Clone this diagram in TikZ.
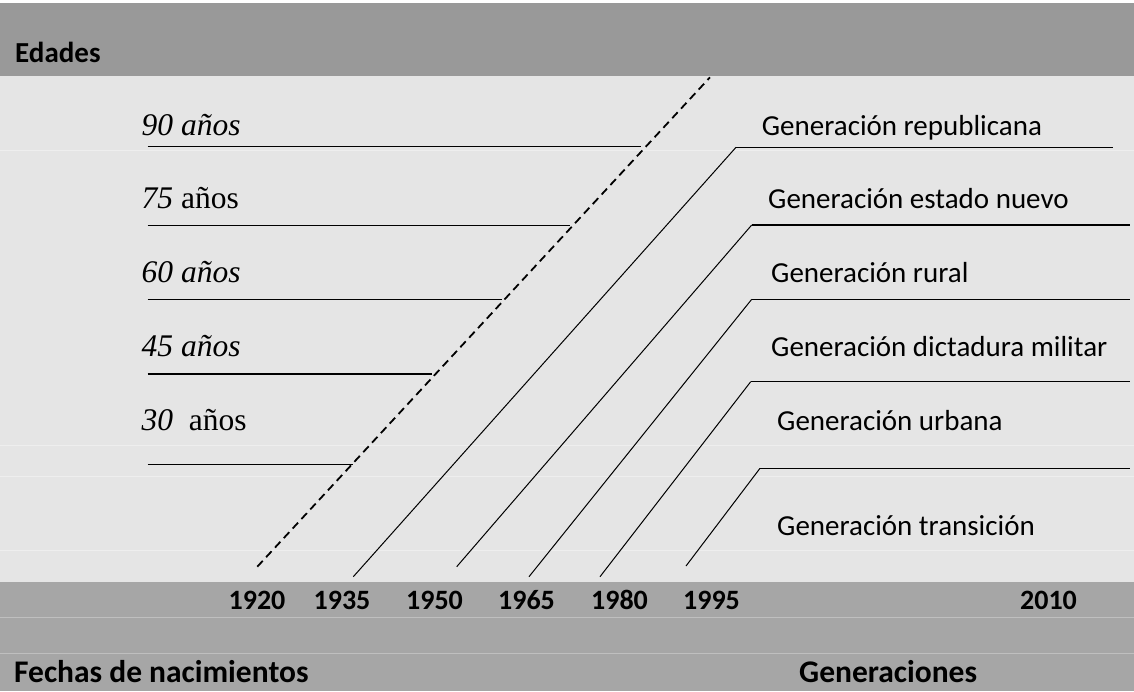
\documentclass[tikz,border=0pt]{standalone}
\usepackage{fontspec}
\newfontfamily\calfont{Carlito}
\newfontfamily\tnrfont{Liberation Serif}
\definecolor{topband}{gray}{0.60}
\definecolor{botband}{gray}{0.65}
\definecolor{midgray}{gray}{0.90}
\definecolor{faintline}{gray}{0.935}
\definecolor{bandline}{gray}{0.75}
\begin{document}
\begin{tikzpicture}[x=1pt,y=-1pt,
  headlab/.style={font=\calfont\bfseries\fontsize{29pt}{34pt}\selectfont, inner sep=0pt, anchor=base west},
  footlab/.style={font=\calfont\bfseries\fontsize{31.5pt}{36pt}\selectfont, inner sep=0pt, anchor=base west},
  yearlab/.style={font=\calfont\bfseries\fontsize{28pt}{33pt}\selectfont, inner sep=0pt, anchor=base},
  genlab/.style={font=\calfont\fontsize{29pt}{34pt}\selectfont, inner sep=0pt, anchor=base west},
  agelab/.style={font=\tnrfont\fontsize{31.5pt}{36pt}\selectfont, inner sep=0pt, anchor=base west},
  ageline/.style={line width=1.2pt, black},
  genline/.style={line width=1.2pt, black},
  slant/.style={line width=1pt, black},
  dashline/.style={line width=1.8pt, black, dash pattern=on 8pt off 5pt}]
\useasboundingbox (0,0) rectangle (1134,691);
% backgrounds
\fill[white] (0,0) rectangle (1134,691);
\fill[topband] (0,3) rectangle (1134,75.7);
\fill[midgray] (0,75.7) rectangle (1134,581.7);
\fill[botband] (0,581.7) rectangle (1134,691);
\foreach \yy in {150,445.5,476.5,550.5}{\draw[faintline, line width=1pt] (0,\yy) -- (1134,\yy);}
\foreach \yy in {617,653}{\draw[bandline, line width=1pt] (0,\yy) -- (1134,\yy);}
% header / footer texts
\node[headlab] (edades) at (15,62) {Edades};
\node[footlab] (fechas) at (14,682) {Fechas de nacimientos};
\node[footlab] (gens) at (799,682) {Generaciones};
% years
\node[yearlab] (y1920) at (257,609) {1920};
\node[yearlab] (y1935) at (342,609) {1935};
\node[yearlab] (y1950) at (434.5,609) {1950};
\node[yearlab] (y1965) at (526.5,609) {1965};
\node[yearlab] (y1980) at (619.5,609) {1980};
\node[yearlab] (y1995) at (711.5,609) {1995};
\node[yearlab] (y2010) at (1048.5,609) {2010};
% age labels
\node[agelab] (a90) at (141.5,135) {\itshape 90 años};
\node[agelab] (a75) at (141.5,208.3) {\textit{75} años};
\node[agelab] (a60) at (141.5,282.7) {\itshape 60 años};
\node[agelab] (a45) at (141.5,356.7) {\itshape 45 años};
\node[agelab] (a30) at (141.5,430.5) {\textit{30}\ \ años};
% age lines
\coordinate (l90a) at (147.7,146.7); \coordinate (l90b) at (641,146.7);
\coordinate (l75a) at (147.7,225.7); \coordinate (l75b) at (570,225.7);
\coordinate (l60a) at (147.7,299.3); \coordinate (l60b) at (502,299.3);
\coordinate (l45a) at (147.7,374);   \coordinate (l45b) at (432,374);
\coordinate (l30a) at (147.7,464.3); \coordinate (l30b) at (352.5,464.3);
\draw[ageline] (l90a) -- (l90b);
\draw[ageline] (l75a) -- (l75b);
\draw[ageline] (l60a) -- (l60b);
\draw[ageline] (l45a) -- (l45b);
\draw[ageline] (l30a) -- (l30b);
% dashed birth line
\coordinate (d0) at (257.3,566.7); \coordinate (d1) at (710,77.3);
\draw[dashline] (d0) -- (d1);
% generation lines
\coordinate (g1s) at (353.3,576.7); \coordinate (g1t) at (736,147.3); \coordinate (g1e) at (1112.7,147.3);
\coordinate (g2s) at (456.7,566.7); \coordinate (g2t) at (751.7,225);  \coordinate (g2e) at (1130,225);
\coordinate (g3s) at (529,576.7);   \coordinate (g3t) at (751.7,299.3); \coordinate (g3e) at (1130,299.3);
\coordinate (g4s) at (600,576.7);   \coordinate (g4t) at (750.7,381.7); \coordinate (g4e) at (1130,381.7);
\coordinate (g5s) at (686,566);     \coordinate (g5t) at (760,468.3);  \coordinate (g5e) at (1130,468.3);
\draw[slant] (g1s) -- (g1t); \draw[genline] (g1t) -- (g1e);
\draw[slant] (g2s) -- (g2t); \draw[genline] (g2t) -- (g2e);
\draw[slant] (g3s) -- (g3t); \draw[genline] (g3t) -- (g3e);
\draw[slant] (g4s) -- (g4t); \draw[genline] (g4t) -- (g4e);
\draw[slant] (g5s) -- (g5t); \draw[genline] (g5t) -- (g5e);
% generation labels
\node[genlab] (grep) at (761.7,135) {Generación republicana};
\node[genlab] (gest) at (768,208.3) {Generación estado nuevo};
\node[genlab] (grur) at (771,282.7) {Generación rural};
\node[genlab] (gdic) at (771,356.7) {Generación dictadura militar};
\node[genlab] (gurb) at (777,430) {Generación urbana};
\node[genlab] (gtra) at (777,535) {Generación transición};
\end{tikzpicture}
\end{document}
